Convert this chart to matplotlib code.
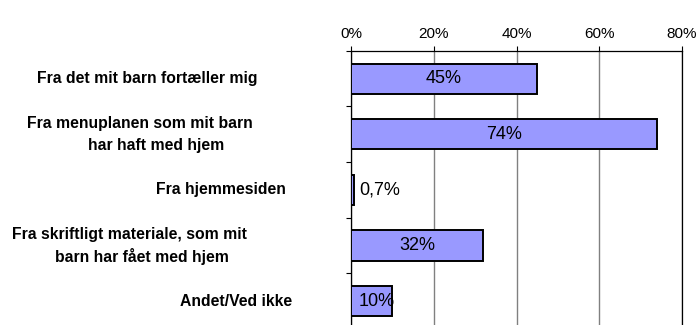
import matplotlib
matplotlib.use("Agg")
import matplotlib.pyplot as plt
from matplotlib.ticker import FixedLocator, FuncFormatter
import matplotlib.transforms as mtransforms

plt.rcParams['font.family'] = ['Liberation Sans', 'DejaVu Sans']

categories = [
    "Fra det mit barn fortæller mig",
    "Fra menuplanen som mit barn\nhar haft med hjem",
    "Fra hjemmesiden",
    "Fra skriftligt materiale, som mit\nbarn har fået med hjem",
    "Andet/Ved ikke",
]
values = [45, 74, 0.7, 32, 10]
value_labels = ["45%", "74%", "0,7%", "32%", "10%"]
x_ticks = [0, 20, 40, 60, 80]

# horizontal centre (figure pixels) of each line of each category label
line_centers_px = [[147], [140, 156], [221], [130, 142], [236]]
LINE_STEP_PX = 22

W, H = 696, 325
fig = plt.figure(figsize=(W / 100, H / 100), dpi=100)
ax = fig.add_axes([351 / W, 1 - 329 / H, (682 - 351) / W, (329 - 50.7) / H])

ypos = list(range(len(categories)))
ax.barh(ypos, values, height=0.54, color="#9999FF", edgecolor="black",
        linewidth=1.4, zorder=3)

ax.set_xlim(0, 80)
ax.set_ylim(len(categories) - 0.5, -0.5)

# x axis on top
ax.xaxis.set_ticks_position("top")
ax.xaxis.set_major_locator(FixedLocator(x_ticks))
ax.xaxis.set_major_formatter(FuncFormatter(lambda v, p: f"{v:.0f}%"))
ax.tick_params(axis="x", which="major", direction="out", length=3.6, width=0.8,
               pad=3.5, labelsize=11, colors="black")
ax.grid(axis="x", color="#808080", linewidth=1.0, zorder=0)

# y axis: ticks between categories, no labels
ax.yaxis.set_major_locator(FixedLocator([]))
ax.yaxis.set_minor_locator(FixedLocator([i - 0.5 for i in range(len(categories) + 1)]))
ax.tick_params(axis="y", which="minor", direction="out", length=3.6, width=0.8)

for side in ["top", "left", "right"]:
    ax.spines[side].set_color("black")
    ax.spines[side].set_linewidth(0.9)
ax.spines["bottom"].set_visible(False)

# value labels
for y, v, lab in zip(ypos, values, value_labels):
    if v >= 20:
        ax.text(v / 2, y, lab, ha="center", va="center", fontsize=13, zorder=4)
    else:
        ax.annotate(lab, xy=(0, y), xytext=(5.8, 0), textcoords="offset points",
                    ha="left", va="center", fontsize=13, zorder=4)

# category labels, one text per line
trans = mtransforms.blended_transform_factory(fig.transFigure, ax.transData)
for y, cat, centers in zip(ypos, categories, line_centers_px):
    lines = cat.split("\n")
    n = len(lines)
    for i, (line, cx) in enumerate(zip(lines, centers)):
        dy = (i - (n - 1) / 2) * LINE_STEP_PX * 0.72  # pixels -> points
        fig.text(cx / W, y, line, ha="center", va="center",
                 fontsize=11.3, fontweight="bold",
                 transform=trans + mtransforms.ScaledTranslation(0, -dy / 72, fig.dpi_scale_trans))

fig.savefig("out.png", dpi=100)
